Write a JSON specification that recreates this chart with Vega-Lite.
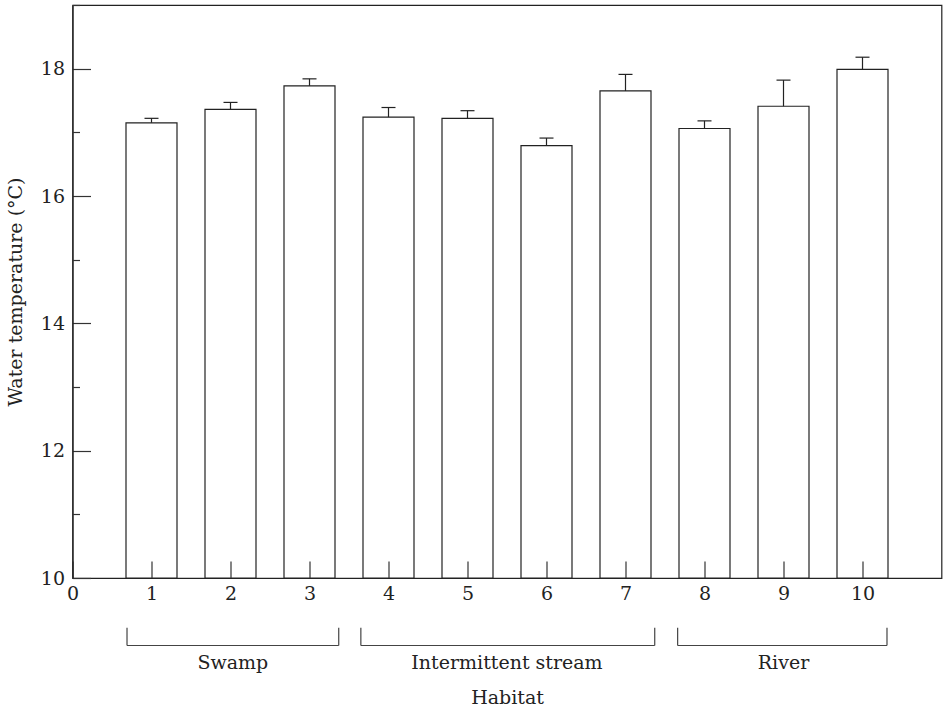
{
  "$schema": "https://vega.github.io/schema/vega-lite/v6.json",
  "width": 869,
  "height": 573,
  "autosize": {"type": "none"},
  "padding": {"left": 72.5, "top": 5, "right": 5, "bottom": 132},
  "background": "white",
  "config": {
    "view": {"stroke": "#222", "strokeWidth": 1.2},
    "font": "DejaVu Serif",
    "axis": {
      "labelFont": "DejaVu Serif",
      "titleFont": "DejaVu Serif",
      "labelFontSize": 19,
      "titleFontSize": 19,
      "labelColor": "#222",
      "titleColor": "#222",
      "titleFontWeight": "normal",
      "domainColor": "#222",
      "domainWidth": 1.2,
      "tickColor": "#333",
      "tickWidth": 1.2,
      "grid": false,
      "zindex": 1,
      "labelFlush": false
    }
  },
  "datasets": {
    "bars": [
      {"site": 1, "habitat": "Swamp", "temp": 17.15, "upper": 17.22},
      {"site": 2, "habitat": "Swamp", "temp": 17.36, "upper": 17.47},
      {"site": 3, "habitat": "Swamp", "temp": 17.73, "upper": 17.84},
      {"site": 4, "habitat": "Intermittent stream", "temp": 17.24, "upper": 17.39},
      {"site": 5, "habitat": "Intermittent stream", "temp": 17.22, "upper": 17.34},
      {"site": 6, "habitat": "Intermittent stream", "temp": 16.79, "upper": 16.91},
      {"site": 7, "habitat": "Intermittent stream", "temp": 17.65, "upper": 17.91},
      {"site": 8, "habitat": "River", "temp": 17.06, "upper": 17.18},
      {"site": 9, "habitat": "River", "temp": 17.41, "upper": 17.82},
      {"site": 10, "habitat": "River", "temp": 17.99, "upper": 18.18}
    ],
    "groups": [
      {"habitat": "Swamp", "start": 0.69, "end": 3.37, "mid": 2.03},
      {"habitat": "Intermittent stream", "start": 3.65, "end": 7.37, "mid": 5.5},
      {"habitat": "River", "start": 7.66, "end": 10.31, "mid": 9.0}
    ]
  },
  "resolve": {"scale": {"y": "independent"}, "axis": {"y": "independent"}},
  "layer": [
    {
      "layer": [
        {
          "data": {"name": "bars"},
          "mark": {"type": "bar", "fill": "white", "stroke": "#222", "strokeWidth": 1.2, "width": 51},
          "encoding": {
            "x": {
              "field": "site",
              "type": "quantitative",
              "scale": {"domain": [0, 11], "nice": false, "zero": false, "padding": 0},
              "axis": {
                "values": [0, 1, 2, 3, 4, 5, 6, 7, 8, 9, 10],
                "format": "d",
                "ticks": true,
                "tickSize": -17,
                "labelPadding": 23,
                "title": "Habitat",
                "titlePadding": 85,
                "zindex": 1
              }
            },
            "y": {
              "field": "temp",
              "type": "quantitative",
              "scale": {"domain": [10, 19], "nice": false, "zero": false, "padding": 0},
              "axis": {
                "values": [10, 12, 14, 16, 18],
                "format": "d",
                "ticks": true,
                "tickSize": -18,
                "labelPadding": 26,
                "title": "Water temperature (°C)",
                "titlePadding": 15,
                "zindex": 1
              }
            },
            "y2": {"datum": 10}
          }
        },
        {
          "data": {"name": "bars"},
          "mark": {"type": "rule", "stroke": "#222", "strokeWidth": 1.2},
          "encoding": {
            "x": {"field": "site", "type": "quantitative"},
            "y": {"field": "temp", "type": "quantitative"},
            "y2": {"field": "upper"}
          }
        },
        {
          "data": {"name": "bars"},
          "mark": {"type": "tick", "orient": "horizontal", "size": 14, "thickness": 1.2, "color": "#222", "opacity": 1},
          "encoding": {
            "x": {"field": "site", "type": "quantitative"},
            "y": {"field": "upper", "type": "quantitative"}
          }
        },
        {
          "data": {"name": "groups"},
          "mark": {"type": "rule", "stroke": "#444", "strokeWidth": 1.2, "clip": false},
          "encoding": {
            "x": {"field": "start", "type": "quantitative"},
            "x2": {"field": "end"},
            "y": {"datum": 8.94}
          }
        },
        {
          "data": {"name": "groups"},
          "mark": {"type": "rule", "stroke": "#444", "strokeWidth": 1.2, "clip": false},
          "encoding": {
            "x": {"field": "start", "type": "quantitative"},
            "y": {"datum": 9.22},
            "y2": {"datum": 8.94}
          }
        },
        {
          "data": {"name": "groups"},
          "mark": {"type": "rule", "stroke": "#444", "strokeWidth": 1.2, "clip": false},
          "encoding": {
            "x": {"field": "end", "type": "quantitative"},
            "y": {"datum": 9.22},
            "y2": {"datum": 8.94}
          }
        },
        {
          "data": {"name": "groups"},
          "mark": {"type": "text", "font": "DejaVu Serif", "fontSize": 19, "color": "#222", "baseline": "middle", "align": "center", "clip": false},
          "encoding": {
            "x": {"field": "mid", "type": "quantitative"},
            "y": {"datum": 8.67},
            "text": {"field": "habitat"}
          }
        }
      ]
    },
    {
      "data": {"name": "bars"},
      "mark": {"type": "point", "opacity": 0},
      "encoding": {
        "x": {"field": "site", "type": "quantitative"},
        "y": {
          "field": "upper",
          "type": "quantitative",
          "scale": {"domain": [10, 19], "nice": false, "zero": false, "padding": 0},
          "axis": {
            "orient": "left",
            "values": [11, 13, 15, 17, 19],
            "tickSize": -7,
            "labels": false,
            "domain": false,
            "title": null,
            "zindex": 1
          }
        }
      }
    }
  ]
}
